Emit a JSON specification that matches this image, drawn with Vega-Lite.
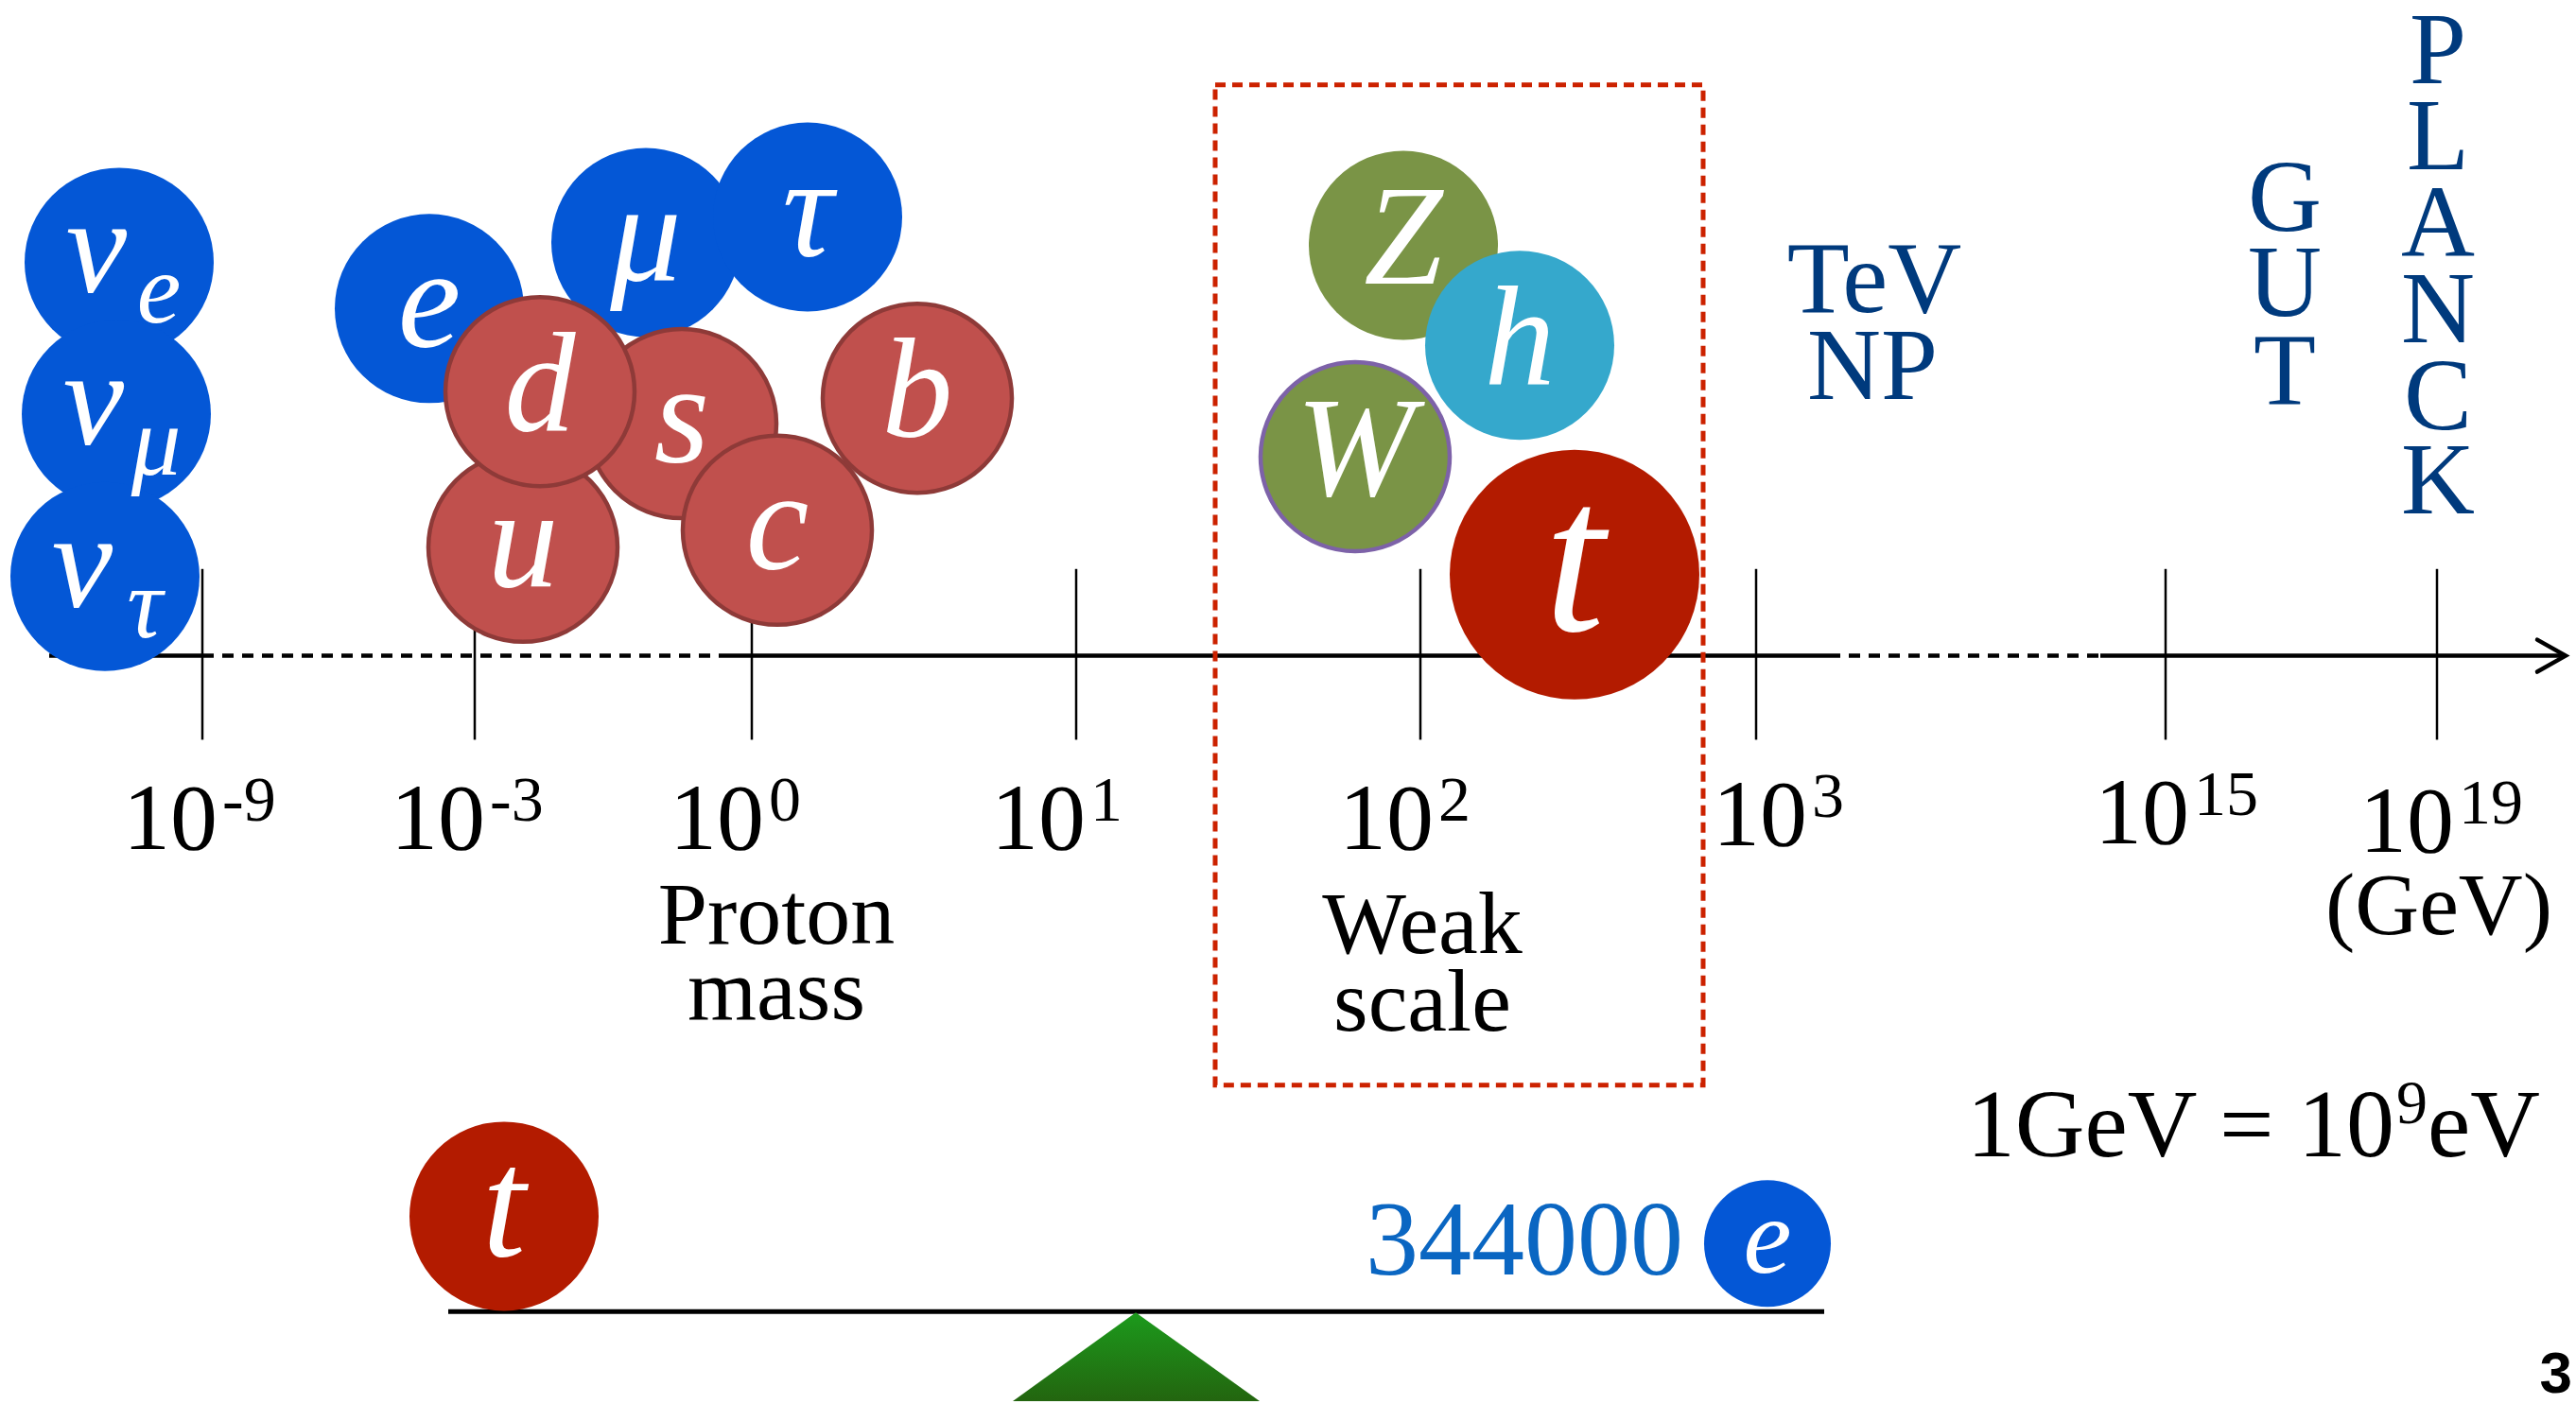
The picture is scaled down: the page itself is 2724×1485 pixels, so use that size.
{
  "$schema": "https://vega.github.io/schema/vega-lite/v6.json",
  "width": 2724,
  "height": 1485,
  "padding": 0,
  "autosize": {"type": "fit", "contains": "padding"},
  "background": "white",
  "config": {"view": {"stroke": null}},
  "datasets": {
    "axisline": [
      {"x": 52, "x2": 214, "y": 695, "style": "solid"},
      {"x": 214, "x2": 765, "y": 695, "style": "dashed"},
      {"x": 765, "x2": 1934, "y": 695, "style": "solid"},
      {"x": 1934, "x2": 2221, "y": 695, "style": "dashed"},
      {"x": 2221, "x2": 2713, "y": 695, "style": "solid"}
    ],
    "arrow": [
      {"i": 1, "x": 2683, "y": 678},
      {"i": 2, "x": 2713, "y": 695},
      {"i": 3, "x": 2683, "y": 712}
    ],
    "ticks": [
      {"energy": "1e-9", "x": 214, "y": 603, "y2": 784, "base": "10", "exp": "-9", "lx": 230, "ly": 900},
      {"energy": "1e-3", "x": 502, "y": 603, "y2": 784, "base": "10", "exp": "-3", "lx": 513, "ly": 900},
      {"energy": "1e0", "x": 795, "y": 603, "y2": 784, "base": "10", "exp": "0", "lx": 808, "ly": 900},
      {"energy": "1e1", "x": 1138, "y": 603, "y2": 784, "base": "10", "exp": "1", "lx": 1148, "ly": 900},
      {"energy": "1e2", "x": 1502, "y": 603, "y2": 784, "base": "10", "exp": "2", "lx": 1516, "ly": 900},
      {"energy": "1e3", "x": 1857, "y": 603, "y2": 784, "base": "10", "exp": "3", "lx": 1911, "ly": 896},
      {"energy": "1e15", "x": 2290, "y": 603, "y2": 784, "base": "10", "exp": "15", "lx": 2315, "ly": 894},
      {"energy": "1e19", "x": 2577, "y": 603, "y2": 784, "base": "10", "exp": "19", "lx": 2595, "ly": 903}
    ],
    "particles": [
      {"name": "nu_e", "kind": "lepton", "sym": "ν", "sub": "e", "x": 126, "y": 278},
      {"name": "nu_mu", "kind": "lepton", "sym": "ν", "sub": "μ", "x": 123, "y": 439},
      {"name": "nu_tau", "kind": "lepton", "sym": "ν", "sub": "τ", "x": 111, "y": 611},
      {"name": "e", "kind": "lepton", "sym": "e", "sub": "", "x": 454, "y": 327},
      {"name": "mu", "kind": "lepton", "sym": "μ", "sub": "", "x": 683, "y": 257},
      {"name": "tau", "kind": "lepton", "sym": "τ", "sub": "", "x": 854, "y": 230},
      {"name": "u", "kind": "quark", "sym": "u", "sub": "", "x": 553, "y": 580},
      {"name": "s", "kind": "quark", "sym": "s", "sub": "", "x": 721, "y": 449},
      {"name": "d", "kind": "quark", "sym": "d", "sub": "", "x": 571, "y": 415},
      {"name": "c", "kind": "quark", "sym": "c", "sub": "", "x": 822, "y": 562},
      {"name": "b", "kind": "quark", "sym": "b", "sub": "", "x": 970, "y": 422},
      {"name": "Z", "kind": "gauge", "sym": "Z", "sub": "", "x": 1484, "y": 260},
      {"name": "h", "kind": "higgs", "sym": "h", "sub": "", "x": 1607, "y": 366},
      {"name": "W", "kind": "gauge", "sym": "W", "sub": "", "x": 1433, "y": 484},
      {"name": "t", "kind": "top", "sym": "t", "sub": "", "x": 1665, "y": 609},
      {"name": "t_seesaw", "kind": "top", "sym": "t", "sub": "", "x": 533, "y": 1289},
      {"name": "e_seesaw", "kind": "lepton", "sym": "e", "sub": "", "x": 1869, "y": 1318}
    ],
    "weakbox": [{"x": 1285, "x2": 1801, "y": 90, "y2": 1150}],
    "notes": [
      {"text": "Proton", "x": 821, "y": 1000},
      {"text": "mass", "x": 821, "y": 1080},
      {"text": "Weak", "x": 1504, "y": 1010},
      {"text": "scale", "x": 1504, "y": 1092},
      {"text": "(GeV)", "x": 2579, "y": 990}
    ],
    "scales": [
      {"text": "TeV", "x": 1982, "y": 331},
      {"text": "NP", "x": 1980, "y": 423},
      {"text": "G", "x": 2416, "y": 244},
      {"text": "U", "x": 2416, "y": 335},
      {"text": "T", "x": 2416, "y": 428},
      {"text": "P", "x": 2578, "y": 88},
      {"text": "L", "x": 2578, "y": 179},
      {"text": "A", "x": 2578, "y": 272},
      {"text": "N", "x": 2578, "y": 363},
      {"text": "C", "x": 2578, "y": 455},
      {"text": "K", "x": 2578, "y": 544}
    ],
    "equation": [
      {"part": "base", "text": "1GeV = 10", "x": 2532, "y": 1225},
      {"part": "sup", "text": "9", "x": 2534, "y": 1190},
      {"part": "tail", "text": "eV", "x": 2567, "y": 1225}
    ],
    "beam": [{"x": 474, "x2": 1929, "y": 1390}],
    "fulcrum": [
      {"x": 1071, "y": 1485},
      {"x": 1201, "y": 1391},
      {"x": 1332, "y": 1485}
    ],
    "ratio": [{"text": "344000", "x": 1780, "y": 1351}],
    "page": [{"text": "3", "x": 2720, "y": 1476}]
  },
  "layer": [
    {
      "data": {"name": "axisline"},
      "mark": {"type": "rule", "color": "black", "strokeWidth": 4.5},
      "encoding": {
        "x": {"field": "x", "type": "quantitative", "scale": {"domain": [0, 2724], "nice": false, "zero": false}, "axis": null},
        "x2": {"field": "x2"},
        "y": {"field": "y", "type": "quantitative", "scale": {"domain": [0, 1485], "nice": false, "zero": false, "reverse": true}, "axis": null},
        "strokeDash": {"field": "style", "type": "nominal", "scale": {"domain": ["solid", "dashed"], "range": [[1, 0], [12, 9]]}, "legend": null}
      }
    },
    {
      "data": {"name": "arrow"},
      "mark": {"type": "line", "color": "black", "strokeWidth": 4.5, "strokeCap": "round", "strokeJoin": "miter"},
      "encoding": {
        "x": {"field": "x", "type": "quantitative"},
        "y": {"field": "y", "type": "quantitative"},
        "order": {"field": "i", "type": "quantitative"}
      }
    },
    {
      "data": {"name": "ticks"},
      "mark": {"type": "rule", "color": "black", "strokeWidth": 2.5},
      "encoding": {
        "x": {"field": "x", "type": "quantitative"},
        "y": {"field": "y", "type": "quantitative"},
        "y2": {"field": "y2"}
      }
    },
    {
      "data": {"name": "beam"},
      "mark": {"type": "rule", "color": "black", "strokeWidth": 5},
      "encoding": {
        "x": {"field": "x", "type": "quantitative"},
        "x2": {"field": "x2"},
        "y": {"field": "y", "type": "quantitative"}
      }
    },
    {
      "data": {"name": "fulcrum"},
      "mark": {"type": "area", "color": {"gradient": "linear", "x1": 0, "y1": 0, "x2": 0, "y2": 1, "stops": [{"offset": 0, "color": "#1c9a1c"}, {"offset": 1, "color": "#23650f"}]}},
      "encoding": {
        "x": {"field": "x", "type": "quantitative"},
        "y": {"field": "y", "type": "quantitative"},
        "y2": {"datum": 1485}
      }
    },
    {
      "data": {"name": "particles"},
      "transform": [{"filter": "datum.name !== 't' && datum.name !== 'e_seesaw'"}],
      "mark": {"type": "circle", "size": 40000, "opacity": 1, "strokeWidth": 4.5},
      "encoding": {
        "x": {"field": "x", "type": "quantitative"},
        "y": {"field": "y", "type": "quantitative"},
        "fill": {"field": "kind", "type": "nominal", "scale": {"domain": ["lepton", "quark", "gauge", "higgs", "top"], "range": ["#0457d6", "#c0504d", "#7a9446", "#35a8cc", "#b31b00"]}, "legend": null},
        "stroke": {"condition": [{"test": "datum.kind === 'quark'", "value": "#8e3a38"}, {"test": "datum.name === 'W'", "value": "#7d62a8"}], "value": "transparent"}
      }
    },
    {
      "data": {"name": "particles"},
      "transform": [{"filter": "datum.name === 't'"}],
      "mark": {"type": "circle", "size": 69700, "opacity": 1},
      "encoding": {
        "x": {"field": "x", "type": "quantitative"},
        "y": {"field": "y", "type": "quantitative"},
        "fill": {"field": "kind", "type": "nominal", "legend": null}
      }
    },
    {
      "data": {"name": "particles"},
      "transform": [{"filter": "datum.name === 'e_seesaw'"}],
      "mark": {"type": "circle", "size": 17960, "opacity": 1},
      "encoding": {
        "x": {"field": "x", "type": "quantitative"},
        "y": {"field": "y", "type": "quantitative"},
        "fill": {"field": "kind", "type": "nominal", "legend": null}
      }
    },
    {
      "data": {"name": "particles"},
      "transform": [{"filter": "datum.sub === '' && datum.name !== 't' && datum.name !== 'e_seesaw' && datum.name !== 't_seesaw'"}],
      "mark": {"type": "text", "font": "Liberation Serif", "fontStyle": "italic", "fontSize": 150, "color": "white", "align": "center", "baseline": "middle", "dy": -4},
      "encoding": {
        "x": {"field": "x", "type": "quantitative"},
        "y": {"field": "y", "type": "quantitative"},
        "text": {"field": "sym"}
      }
    },
    {
      "data": {"name": "particles"},
      "transform": [{"filter": "datum.sub !== ''"}],
      "mark": {"type": "text", "font": "Liberation Serif", "fontStyle": "italic", "fontSize": 145, "color": "white", "align": "center", "baseline": "middle", "dx": -24, "dy": -12},
      "encoding": {
        "x": {"field": "x", "type": "quantitative"},
        "y": {"field": "y", "type": "quantitative"},
        "text": {"field": "sym"}
      }
    },
    {
      "data": {"name": "particles"},
      "transform": [{"filter": "datum.sub !== ''"}],
      "mark": {"type": "text", "font": "Liberation Serif", "fontStyle": "italic", "fontSize": 105, "color": "white", "align": "center", "baseline": "middle", "dx": 42, "dy": 32},
      "encoding": {
        "x": {"field": "x", "type": "quantitative"},
        "y": {"field": "y", "type": "quantitative"},
        "text": {"field": "sub"}
      }
    },
    {
      "data": {"name": "particles"},
      "transform": [{"filter": "datum.name === 't'"}],
      "mark": {"type": "text", "font": "Liberation Serif", "fontStyle": "italic", "fontSize": 230, "color": "white", "align": "center", "baseline": "middle", "dy": -10},
      "encoding": {
        "x": {"field": "x", "type": "quantitative"},
        "y": {"field": "y", "type": "quantitative"},
        "text": {"field": "sym"}
      }
    },
    {
      "data": {"name": "particles"},
      "transform": [{"filter": "datum.name === 't_seesaw'"}],
      "mark": {"type": "text", "font": "Liberation Serif", "fontStyle": "italic", "fontSize": 165, "color": "white", "align": "center", "baseline": "middle", "dy": -8},
      "encoding": {
        "x": {"field": "x", "type": "quantitative"},
        "y": {"field": "y", "type": "quantitative"},
        "text": {"field": "sym"}
      }
    },
    {
      "data": {"name": "particles"},
      "transform": [{"filter": "datum.name === 'e_seesaw'"}],
      "mark": {"type": "text", "font": "Liberation Serif", "fontStyle": "italic", "fontSize": 115, "color": "white", "align": "center", "baseline": "middle", "dy": -4},
      "encoding": {
        "x": {"field": "x", "type": "quantitative"},
        "y": {"field": "y", "type": "quantitative"},
        "text": {"field": "sym"}
      }
    },
    {
      "data": {"name": "weakbox"},
      "mark": {"type": "rect", "fill": null, "filled": false, "stroke": "#cc2200", "strokeWidth": 5, "strokeDash": [11, 7]},
      "encoding": {
        "x": {"field": "x", "type": "quantitative"},
        "x2": {"field": "x2"},
        "y": {"field": "y", "type": "quantitative"},
        "y2": {"field": "y2"}
      }
    },
    {
      "data": {"name": "ticks"},
      "mark": {"type": "text", "font": "Liberation Serif", "fontSize": 100, "color": "black", "align": "right", "baseline": "alphabetic"},
      "encoding": {
        "x": {"field": "lx", "type": "quantitative"},
        "y": {"field": "ly", "type": "quantitative"},
        "text": {"field": "base"}
      }
    },
    {
      "data": {"name": "ticks"},
      "mark": {"type": "text", "font": "Liberation Serif", "fontSize": 68, "color": "black", "align": "left", "baseline": "alphabetic", "dx": 5, "dy": -30},
      "encoding": {
        "x": {"field": "lx", "type": "quantitative"},
        "y": {"field": "ly", "type": "quantitative"},
        "text": {"field": "exp"}
      }
    },
    {
      "data": {"name": "notes"},
      "mark": {"type": "text", "font": "Liberation Serif", "fontSize": 94, "color": "black", "align": "center", "baseline": "alphabetic"},
      "encoding": {
        "x": {"field": "x", "type": "quantitative"},
        "y": {"field": "y", "type": "quantitative"},
        "text": {"field": "text"}
      }
    },
    {
      "data": {"name": "scales"},
      "mark": {"type": "text", "font": "Liberation Serif", "fontSize": 108, "color": "#003a7d", "align": "center", "baseline": "alphabetic"},
      "encoding": {
        "x": {"field": "x", "type": "quantitative"},
        "y": {"field": "y", "type": "quantitative"},
        "text": {"field": "text"}
      }
    },
    {
      "data": {"name": "equation"},
      "transform": [{"filter": "datum.part === 'base'"}],
      "mark": {"type": "text", "font": "Liberation Serif", "fontSize": 102, "color": "black", "align": "right", "baseline": "alphabetic"},
      "encoding": {
        "x": {"field": "x", "type": "quantitative"},
        "y": {"field": "y", "type": "quantitative"},
        "text": {"field": "text"}
      }
    },
    {
      "data": {"name": "equation"},
      "transform": [{"filter": "datum.part === 'sup'"}],
      "mark": {"type": "text", "font": "Liberation Serif", "fontSize": 66, "color": "black", "align": "left", "baseline": "alphabetic"},
      "encoding": {
        "x": {"field": "x", "type": "quantitative"},
        "y": {"field": "y", "type": "quantitative"},
        "text": {"field": "text"}
      }
    },
    {
      "data": {"name": "equation"},
      "transform": [{"filter": "datum.part === 'tail'"}],
      "mark": {"type": "text", "font": "Liberation Serif", "fontSize": 102, "color": "black", "align": "left", "baseline": "alphabetic"},
      "encoding": {
        "x": {"field": "x", "type": "quantitative"},
        "y": {"field": "y", "type": "quantitative"},
        "text": {"field": "text"}
      }
    },
    {
      "data": {"name": "ratio"},
      "mark": {"type": "text", "font": "Liberation Serif", "fontSize": 112, "color": "#0a66c2", "align": "right", "baseline": "alphabetic"},
      "encoding": {
        "x": {"field": "x", "type": "quantitative"},
        "y": {"field": "y", "type": "quantitative"},
        "text": {"field": "text"}
      }
    },
    {
      "data": {"name": "page"},
      "mark": {"type": "text", "font": "Liberation Sans", "fontWeight": "bold", "fontSize": 62, "color": "black", "align": "right", "baseline": "alphabetic"},
      "encoding": {
        "x": {"field": "x", "type": "quantitative"},
        "y": {"field": "y", "type": "quantitative"},
        "text": {"field": "text"}
      }
    }
  ]
}
